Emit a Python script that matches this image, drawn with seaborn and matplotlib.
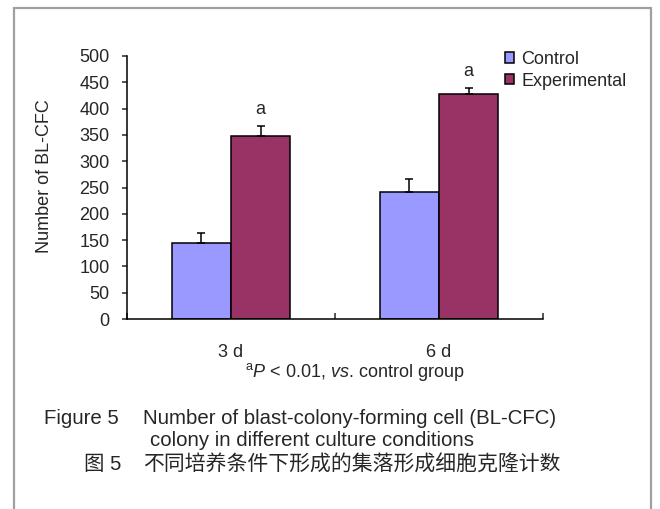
import pandas as pd
import matplotlib.pyplot as plt
import matplotlib.patches as mpatches
from matplotlib.ticker import MultipleLocator, FixedLocator
import seaborn as sns

# Dados
days = ['3 d', '6 d']
groups = ['Control', 'Experimental']
control_mean = [145, 241]
control_err = [18, 25]
exp_mean = [347, 427]
exp_err = [19, 12]
sig_labels = ['a', 'a']

df = pd.DataFrame({
    'Dia': days * 2,
    'Grupo': [groups[0]] * 2 + [groups[1]] * 2,
    'Contagem': control_mean + exp_mean,
})
errs = {groups[0]: control_err, groups[1]: exp_err}

sns.set_style('white')
plt.rcParams['font.family'] = ['Liberation Sans', 'Noto Sans CJK SC', 'DejaVu Sans']
plt.rcParams['mathtext.fontset'] = 'custom'
plt.rcParams['mathtext.rm'] = 'Liberation Sans'
plt.rcParams['mathtext.it'] = 'Liberation Sans:italic'

FS = 13      # rótulos do gráfico
FC = 14.7    # legenda da figura

W, H = 660, 509
fig = plt.figure(figsize=(W / 100, H / 100), dpi=100)
ax = fig.add_axes([127 / W, 1 - 319 / H, 416 / W, 263 / H])

sns.barplot(data=df, x='Dia', y='Contagem', hue='Grupo',
            palette=['#9999FF', '#993366'], width=0.57,
            edgecolor='black', linewidth=1.1, errorbar=None,
            saturation=1, ax=ax)

# Barras de erro (apenas para cima) e letras de significância
for cont, grp in zip(ax.containers, groups):
    for i, bar in enumerate(cont):
        xc = bar.get_x() + bar.get_width() / 2
        h = bar.get_height()
        e = errs[grp][i]
        ax.errorbar(xc, h, yerr=[[0], [e]], fmt='none', ecolor='black',
                    elinewidth=1.1, capsize=3, capthick=1.1)
        if grp == 'Experimental':
            ax.annotate(sig_labels[i], (xc, h + e), xytext=(0, 12),
                        textcoords='offset points', ha='center', va='center',
                        fontsize=FS)

# Eixos
ax.set_xlim(-0.5, 1.5)
ax.set_ylim(0, 500)
ax.yaxis.set_major_locator(MultipleLocator(50))
ax.xaxis.set_minor_locator(FixedLocator([-0.5, 0.5, 1.5]))
ax.tick_params(axis='y', direction='out', length=3.5, width=1.1, pad=9,
               labelsize=FS, left=True)
ax.tick_params(axis='x', which='major', length=0, pad=18, labelsize=FS)
ax.tick_params(axis='x', which='minor', direction='in', length=4, width=1.1,
               bottom=True)
for s in ['top', 'right']:
    ax.spines[s].set_visible(False)
for s in ['left', 'bottom']:
    ax.spines[s].set_color('black')
    ax.spines[s].set_linewidth(1.1)
ax.set_xlabel('')
ax.set_ylabel('Number of BL-CFC', fontsize=FS)
ax.yaxis.set_label_coords(-0.178, 0.544)

# Legenda
handles, labels = ax.get_legend_handles_labels()
ax.legend(handles, labels, loc='upper left', bbox_to_anchor=(505 / W, 1 - 51 / H),
          bbox_transform=fig.transFigure, frameon=False, fontsize=FS,
          handlelength=0.5, handleheight=0.5, handletextpad=0.4,
          labelspacing=0.25, borderaxespad=0, borderpad=0)

# Notas e legenda da figura
fig.text(355 / W, 1 - 372 / H,
         r'$^{\mathrm{a}}\mathit{P}$ < 0.01, $\mathit{vs}$. control group',
         ha='center', va='center', fontsize=FS)
fig.text(44 / W, 1 - 418 / H, 'Figure 5', ha='left', va='center', fontsize=FC)
fig.text(143 / W, 1 - 418 / H, 'Number of blast-colony-forming cell (BL-CFC)',
         ha='left', va='center', fontsize=FC)
fig.text(150 / W, 1 - 441 / H, 'colony in different culture conditions',
         ha='left', va='center', fontsize=FC)
fig.text(84 / W, 1 - 465 / H, '图 5', ha='left', va='center', fontsize=FC)
fig.text(143 / W, 1 - 465 / H, '不同培养条件下形成的集落形成细胞克隆计数',
         ha='left', va='center', fontsize=15)

# Moldura cinza
frame = mpatches.Rectangle((14 / W, -0.05), (651 - 14) / W, 1.05 - 8 / H,
                           transform=fig.transFigure, fill=False,
                           edgecolor='#A0A0A0', linewidth=1.6)
fig.patches.append(frame)

plt.savefig('out.png', dpi=100)
